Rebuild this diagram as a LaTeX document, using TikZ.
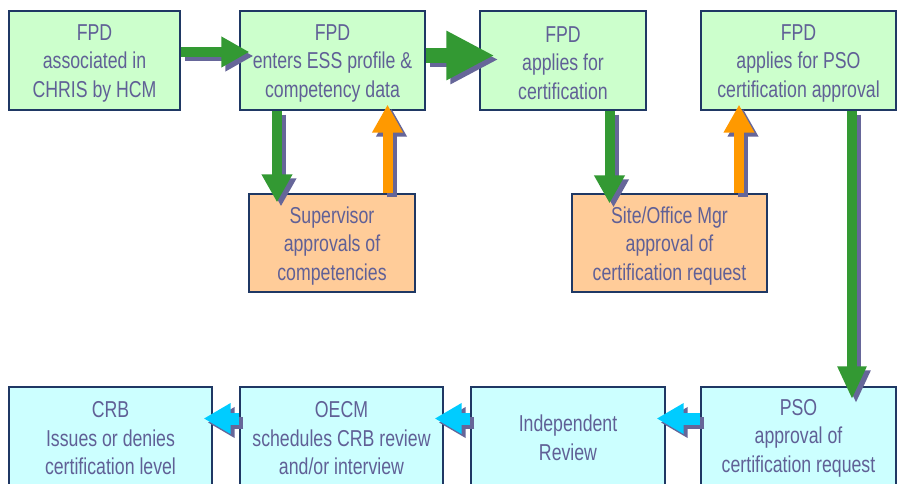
\documentclass[tikz,border=0pt]{standalone}
\usepackage{fontspec}
\setmainfont{Liberation Sans}[FakeStretch=0.77]
\usetikzlibrary{arrows.meta}
\definecolor{gfill}{RGB}{204,255,204}
\definecolor{ofill}{RGB}{255,204,153}
\definecolor{cfill}{RGB}{204,255,255}
\definecolor{bord}{RGB}{31,56,100}
\definecolor{txt}{RGB}{96,96,150}
\definecolor{agreen}{RGB}{51,153,51}
\definecolor{aorange}{RGB}{255,153,0}
\definecolor{acyan}{RGB}{0,204,255}
\definecolor{shc}{RGB}{102,102,153}
\begin{document}
\begin{tikzpicture}[x=1pt,y=-1pt,
  box/.style={draw=bord, line width=1.3pt, inner sep=0pt},
  tx/.style={text=txt, align=center, inner sep=0pt, font=\fontsize{23}{28.5}\selectfont},
  gbox/.style={box, fill=gfill},
  obox/.style={box, fill=ofill},
  cbox/.style={box, fill=cfill},
  shad/.style={transform canvas={shift={(4pt,-4pt)}}},
  small/.style={line width=10pt, -{Triangle[length=28pt,width=29pt]}},
  big/.style={line width=15pt, -{Triangle[length=48pt,width=46pt]}},
  long/.style={line width=10pt, -{Triangle[length=33pt,width=27pt]}},
  cya/.style={line width=12pt, -{Triangle[length=27pt,width=29pt]}}
]
\useasboundingbox (0,0) rectangle (901,483);
\fill[white] (0,0) rectangle (901,483);

% top row
\node[gbox, minimum width=171pt, minimum height=99pt] (b1) at (94.5,60.5) {};
\node[gbox, minimum width=185pt, minimum height=99pt] (b2) at (332.5,60.5) {};
\node[gbox, minimum width=166pt, minimum height=99pt] (b3) at (563,60.5) {};
\node[gbox, minimum width=195pt, minimum height=99pt] (b4) at (798.5,60.5) {};
\node[tx] (t1) at ([yshift=-2.5pt]b1.center) {FPD\\associated in\\CHRIS by HCM};
\node[tx] (t2) at ([yshift=-2.5pt]b2.center) {FPD\\enters ESS profile \&\\competency data};
\node[tx] (t3) at ([yshift=-2.5pt]b3.center) {FPD\\applies for\\certification};
\node[tx] (t4) at ([yshift=-2.5pt]b4.center) {FPD\\applies for PSO\\certification approval};
% middle row
\node[obox, minimum width=166pt, minimum height=98pt] (s1) at (332,243) {};
\node[obox, minimum width=195pt, minimum height=98pt] (s2) at (669.5,243) {};
\node[tx] (ts1) at ([yshift=-3pt]s1.center) {Supervisor\\approvals of\\competencies};
\node[tx] (ts2) at ([yshift=-3pt]s2.center) {Site/Office Mgr\\approval of\\certification request};
% bottom row
\node[cbox, minimum width=203pt, minimum height=102pt] (crb) at (110.5,438) {};
\node[cbox, minimum width=203pt, minimum height=102pt] (oecm) at (341.5,438) {};
\node[cbox, minimum width=194pt, minimum height=102pt] (ind) at (568,438) {};
\node[cbox, minimum width=195pt, minimum height=102pt] (pso) at (798.5,438) {};
\node[tx] (tc) at ([yshift=-0.5pt]crb.center) {CRB\\Issues or denies\\certification level};
\node[tx] (to) at ([yshift=-0.5pt]oecm.center) {OECM\\schedules CRB review\\and/or interview};
\node[tx] (ti) at (ind.center) {Independent\\Review};
\node[tx] (tp) at (pso.center) {PSO\\approval of\\certification request};

% shadows
\begin{scope}[shad]
\draw[small, draw=shc, shorten >=-10pt] (b1.east |- 0,52) -- (b2.west |- 0,52);
\draw[big, draw=shc, shorten >=-15pt] (b2.east |- 0,55.5) -- (b3.west |- 0,55.5);
\draw[small, draw=shc, shorten >=-9pt] (277,0 |- b2.south) -- (277,0 |- s1.north);
\draw[small, draw=shc, shorten >=-6pt] (387.5,0 |- s1.north) -- (387.5,0 |- b2.south);
\draw[small, draw=shc, shorten >=-10pt] (609.5,0 |- b3.south) -- (609.5,0 |- s2.north);
\draw[small, draw=shc, shorten >=-6pt] (739,0 |- s2.north) -- (739,0 |- b4.south);
\draw[long, draw=shc, shorten >=-13pt] (852,0 |- b4.south) -- (852,0 |- pso.north);
\draw[cya, draw=shc, shorten >=-9pt] (pso.west |- 0,418.5) -- (ind.east |- 0,418.5);
\draw[cya, draw=shc, shorten >=-9pt] (ind.west |- 0,418.5) -- (oecm.east |- 0,418.5);
\draw[cya, draw=shc, shorten >=-9pt] (oecm.west |- 0,418.5) -- (crb.east |- 0,418.5);
\end{scope}

% arrows
\draw[small, draw=agreen, shorten >=-10pt] (b1.east |- 0,52) -- (b2.west |- 0,52);
\draw[big, draw=agreen, shorten >=-15pt] (b2.east |- 0,55.5) -- (b3.west |- 0,55.5);
\draw[small, draw=agreen, shorten >=-9pt] (277,0 |- b2.south) -- (277,0 |- s1.north);
\draw[small, draw=aorange, shorten >=-6pt] (387.5,0 |- s1.north) -- (387.5,0 |- b2.south);
\draw[small, draw=agreen, shorten >=-10pt] (609.5,0 |- b3.south) -- (609.5,0 |- s2.north);
\draw[small, draw=aorange, shorten >=-6pt] (739,0 |- s2.north) -- (739,0 |- b4.south);
\draw[long, draw=agreen, shorten >=-13pt] (852,0 |- b4.south) -- (852,0 |- pso.north);
\draw[cya, draw=acyan, shorten >=-9pt] (pso.west |- 0,418.5) -- (ind.east |- 0,418.5);
\draw[cya, draw=acyan, shorten >=-9pt] (ind.west |- 0,418.5) -- (oecm.east |- 0,418.5);
\draw[cya, draw=acyan, shorten >=-9pt] (oecm.west |- 0,418.5) -- (crb.east |- 0,418.5);
\end{tikzpicture}
\end{document}
